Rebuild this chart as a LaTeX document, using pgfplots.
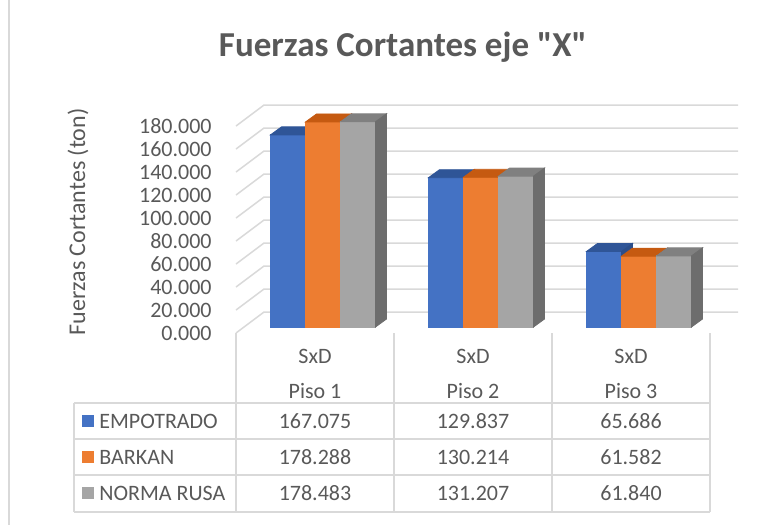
\documentclass[border=0pt]{standalone}
\usepackage{pgfplots}
\pgfplotsset{compat=1.18}
\usepackage{pgfplotstable}
\usepackage{fontspec}
\setmainfont{Carlito}
\newfontfamily\titlefont{Carlito}[Ligatures=TeXOff]

\definecolor{txt}{HTML}{595959}
\definecolor{gridc}{HTML}{D9D9D9}
\definecolor{c1}{HTML}{4472C4}
\definecolor{c1top}{HTML}{2F5597}
\definecolor{c1side}{HTML}{2B4E8A}
\definecolor{c2}{HTML}{ED7D31}
\definecolor{c2top}{HTML}{C55A11}
\definecolor{c2side}{HTML}{B0521A}
\definecolor{c3}{HTML}{A5A5A5}
\definecolor{c3top}{HTML}{808080}
\definecolor{c3side}{HTML}{6D6D6D}

% shear force per storey (ton)
\pgfplotstableread{
x y
0 167.075
1 129.837
2 65.686
}\empotrado
\pgfplotstableread{
x y
0 178.288
1 130.214
2 61.582
}\barkan
\pgfplotstableread{
x y
0 178.483
1 131.207
2 61.840
}\normarusa

\pgfdeclareplotmark{nothing}{}

% a 3-D bar drawn from the top centre of its front face:
% #1 bar shift, #2 front colour, #3 top colour, #4 side colour
\pgfplotsset{
  box bar/.style n args={4}{
    only marks, scatter, mark=nothing,
    visualization depends on={rawy \as \barval},
    scatter/@pre marker code/.code={
      \pgfmathsetmacro\barh{\barval*0.575}
      \fill[#2] (#1-8.75pt,0pt) rectangle (#1+8.75pt,-\barh pt);
      \fill[#3] (#1-8.75pt,0pt) -- ++(5.5pt,4pt) -- ++(17.5pt,0pt) -- ++(-5.5pt,-4pt) -- cycle;
      \fill[#4] (#1+8.75pt,0pt) -- ++(5.5pt,4pt) -- ++(0pt,-\barh pt) -- ++(-5.5pt,-4pt) -- cycle;
    },
    scatter/@post marker code/.code={},
  },
}

\newcommand\tabfont{\fontsize{11}{13}\selectfont}

\begin{document}
\begin{tikzpicture}
\path[use as bounding box] (0pt,0pt) rectangle (388.5pt,-262.5pt);

\begin{axis}[
  at={(122pt,-163.5pt)}, anchor=south west,
  x=79pt, y=0.575pt,
  xmin=-0.5, xmax=2.5, ymin=0, ymax=180,
  axis x line=none,
  axis y line*=left,
  y axis line style={draw=none},
  ytick={0,20,40,60,80,100,120,140,160,180},
  yticklabels={0.000,20.000,40.000,60.000,80.000,100.000,120.000,140.000,160.000,180.000},
  major tick length=0pt,
  yticklabel style={font=\tabfont, text=txt, anchor=east, inner sep=0pt,
    xshift=-16pt, yshift=-3pt},
  clip=false,
]
% floor edge and back wall gridlines
\pgfplotsinvokeforeach{0,20,...,180}{
  \draw[gridc, line width=0.75pt]
    ([xshift=-4pt,yshift=-3pt]axis cs:-0.5,#1) --
    ([xshift=10pt,yshift=7.5pt]axis cs:-0.5,#1) --
    ([xshift=10pt,yshift=7.5pt]axis cs:2.5,#1);
}

\addplot[box bar={-17.5pt}{c1}{c1top}{c1side}] table {\empotrado};
\addplot[box bar={0pt}{c2}{c2top}{c2side}] table {\barkan};
\addplot[box bar={17.5pt}{c3}{c3top}{c3side}] table {\normarusa};
\end{axis}

\begin{scope}[x=0.5pt, y=-0.5pt]
  % chart frame edge
  \draw[gridc, line width=0.75pt] (9,0) -- (9,525);
  % title and value axis label
  \node[font=\titlefont\bfseries\fontsize{17.5}{21}\selectfont, text=txt] at (403,47) {Fuerzas Cortantes eje "X"};
  \node[rotate=90, font=\fontsize{12}{14}\selectfont, text=txt] at (78,222) {Fuerzas Cortantes (ton)};
  % data table
  \draw[gridc, line width=0.75pt]
    (236,333) -- (236,512) (394,333) -- (394,512)
    (552,333) -- (552,512) (710,333) -- (710,512)
    (74,403) -- (74,512)
    (74,403) -- (710,403) (74,439) -- (710,439)
    (74,475) -- (710,475) (74,512) -- (710,512);
  \foreach \cx/\lab in {315/Piso 1, 473/Piso 2, 631/Piso 3}{
    \node[font=\tabfont, text=txt] at (\cx,356) {SxD};
    \node[font=\tabfont, text=txt] at (\cx,391) {\lab};
  }
  \fill[c1] (82,415) rectangle (94,427);
  \fill[c2] (82,451) rectangle (94,463);
  \fill[c3] (82,487) rectangle (94,499);
  \node[font=\tabfont, text=txt, anchor=west, inner sep=0pt] at (99,421) {EMPOTRADO};
  \node[font=\tabfont, text=txt, anchor=west, inner sep=0pt] at (99,457) {BARKAN};
  \node[font=\tabfont, text=txt, anchor=west, inner sep=0pt] at (99,493) {NORMA RUSA};
  \foreach \cx/\va/\vb/\vc in {315/167.075/178.288/178.483, 473/129.837/130.214/131.207, 631/65.686/61.582/61.840}{
    \node[font=\tabfont, text=txt] at (\cx,421) {\va};
    \node[font=\tabfont, text=txt] at (\cx,457) {\vb};
    \node[font=\tabfont, text=txt] at (\cx,493) {\vc};
  }
\end{scope}
\end{tikzpicture}
\end{document}
